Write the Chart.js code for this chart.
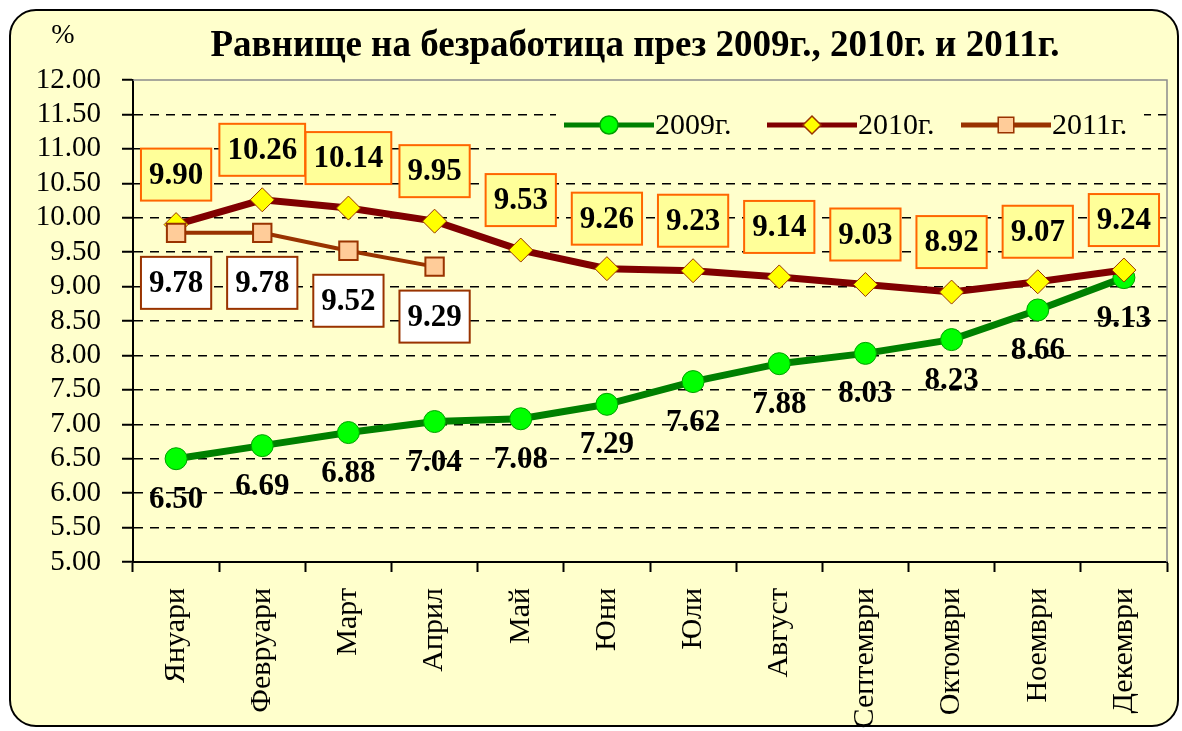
<!DOCTYPE html>
<html>
<head>
<meta charset="utf-8">
<script src="https://cdn.jsdelivr.net/npm/chart.js@4.4.0/dist/chart.umd.min.js"></script>
<style>
  html, body { margin: 0; padding: 0; background: #fff; }
  #wrap { width: 1182px; height: 731px; }
</style>
</head>
<body>
<div id="wrap"><canvas id="unemploymentChart" width="1182" height="731"></canvas></div>
<script>
// data
const months = ['Януари', 'Февруари', 'Март', 'Април', 'Май', 'Юни', 'Юли', 'Август', 'Септември', 'Октомври', 'Ноември', 'Декември'];
const rate2009 = [6.50, 6.69, 6.88, 7.04, 7.08, 7.29, 7.62, 7.88, 8.03, 8.23, 8.66, 9.13];
const rate2010 = [9.90, 10.26, 10.14, 9.95, 9.53, 9.26, 9.23, 9.14, 9.03, 8.92, 9.07, 9.24];
const rate2011 = [9.78, 9.78, 9.52, 9.29, null, null, null, null, null, null, null, null];
const seriesNames = ['2009г.', '2010г.', '2011г.'];
const yMin = 5, yMax = 12, yStep = 0.5;

const chartTitle = 'Равнище на безработица през 2009г., 2010г. и 2011г.';
const serif = "'Liberation Serif', 'Times New Roman', serif";

// rounded frame + yellow background
const framePlugin = {
  id: 'frame',
  beforeDraw(chart) {
    const ctx = chart.ctx;
    ctx.save();
    ctx.fillStyle = '#fff';
    ctx.fillRect(0, 0, chart.width, chart.height);
    ctx.beginPath();
    ctx.roundRect(10, 10, 1168, 716, 26);
    ctx.fillStyle = '#FFFFCC';
    ctx.fill();
    ctx.lineWidth = 2;
    ctx.strokeStyle = '#000';
    ctx.stroke();
    ctx.restore();
  },
  beforeDatasetsDraw(chart) {
    const ctx = chart.ctx;
    const a = chart.chartArea;
    ctx.save();
    // top and right edge of the plot area
    ctx.strokeStyle = '#8c8c8c';
    ctx.lineWidth = 1.5;
    ctx.beginPath();
    ctx.moveTo(a.left, a.top);
    ctx.lineTo(a.right, a.top);
    ctx.lineTo(a.right, a.bottom);
    ctx.stroke();

    // legend, inside the plot
    ctx.fillStyle = '#FFFFCC';
    ctx.fillRect(556, 104, 588, 40);
    const starts = [564, 767, 961];
    chart.data.datasets.forEach((ds, i) => {
      const x0 = starts[i], y = 125;
      ctx.strokeStyle = ds.borderColor;
      ctx.lineWidth = 5;
      ctx.beginPath();
      ctx.moveTo(x0, y);
      ctx.lineTo(x0 + 90, y);
      ctx.stroke();
      ctx.fillStyle = ds.pointBackgroundColor;
      ctx.strokeStyle = ds.pointBorderColor;
      ctx.lineWidth = 1.5;
      Chart.helpers.drawPoint(ctx, {
        pointStyle: ds.pointStyle,
        radius: ds.pointStyle === 'rect' ? 11 : 9,
        borderWidth: 1.5,
        rotation: 0
      }, x0 + 45, y);
      ctx.fillStyle = '#000';
      ctx.font = '30px ' + serif;
      ctx.textAlign = 'left';
      ctx.textBaseline = 'middle';
      ctx.fillText(ds.label, x0 + 91, y + 1);
    });
    ctx.restore();
  },
  afterDraw(chart) {
    const ctx = chart.ctx;
    ctx.save();
    ctx.fillStyle = '#000';
    ctx.textAlign = 'center';
    ctx.textBaseline = 'middle';
    ctx.font = 'bold 37px ' + serif;
    ctx.fillText(chartTitle, 635, 46);
    ctx.font = '28px ' + serif;
    ctx.fillText('%', 63, 36);
    ctx.restore();
  }
};

// value labels: boxes for 2010 and 2011, plain bold for 2009
const labelPlugin = {
  id: 'valueLabels',
  afterDatasetsDraw(chart) {
    const ctx = chart.ctx;
    const styles = [
      { dy: 40, fill: null, stroke: null },
      { dy: -50, fill: '#FFFF99', stroke: '#FF6600' },
      { dy: 50, fill: '#FFFFFF', stroke: '#993300' }
    ];
    ctx.save();
    ctx.font = 'bold 31px ' + serif;
    ctx.textAlign = 'center';
    ctx.textBaseline = 'middle';
    chart.data.datasets.forEach((ds, i) => {
      const meta = chart.getDatasetMeta(i);
      const st = styles[i];
      meta.data.forEach((pt, j) => {
        const v = ds.data[j];
        if (v === null || v === undefined) return;
        const txt = v.toFixed(2);
        const x = pt.x, y = pt.y + st.dy;
        if (st.fill) {
          const w = ctx.measureText(txt).width + 16;
          const h = 52;
          ctx.fillStyle = st.fill;
          ctx.fillRect(x - w / 2, y - h / 2, w, h);
          ctx.lineWidth = 2;
          ctx.strokeStyle = st.stroke;
          ctx.strokeRect(x - w / 2, y - h / 2, w, h);
        }
        ctx.fillStyle = '#000';
        ctx.fillText(txt, x, y + 1);
      });
    });
    ctx.restore();
  }
};

function unemploymentChart() {
  const ctx = document.getElementById('unemploymentChart');

  const data = {
    labels: months,
    datasets: [{
      label: seriesNames[0],
      data: rate2009,
      borderColor: '#008000',
      borderWidth: 7,
      pointStyle: 'circle',
      pointRadius: 11,
      pointHoverRadius: 11,
      pointBackgroundColor: '#00FF00',
      pointBorderColor: '#00A000',
      pointBorderWidth: 1,
      order: 3
    }, {
      label: seriesNames[1],
      data: rate2010,
      borderColor: '#800000',
      borderWidth: 7,
      pointStyle: 'rectRot',
      pointRadius: 12,
      pointHoverRadius: 12,
      pointBackgroundColor: '#FFFF00',
      pointBorderColor: '#993300',
      pointBorderWidth: 1,
      order: 2
    }, {
      label: seriesNames[2],
      data: rate2011,
      borderColor: '#993300',
      borderWidth: 4,
      pointStyle: 'rect',
      pointRadius: 13,
      pointHoverRadius: 13,
      pointBackgroundColor: '#FFCC99',
      pointBorderColor: '#993300',
      pointBorderWidth: 2,
      order: 1
    }]
  };

  const config = {
    type: 'line',
    data: data,
    options: {
      responsive: false,
      animation: false,
      devicePixelRatio: 1,
      layout: { padding: { top: 80, right: 14, left: 0, bottom: 0 } },
      elements: { line: { tension: 0 } },
      plugins: {
        legend: { display: false },
        title: { display: false },
        tooltip: { enabled: false }
      },
      scales: {
        x: {
          offset: true,
          afterFit: s => { s.height = 169; },
          grid: {
            offset: true,
            drawOnChartArea: false,
            drawTicks: true,
            tickLength: 10,
            tickColor: '#000',
            tickWidth: 2
          },
          border: { display: true, color: '#000', width: 2 },
          ticks: {
            autoSkip: false,
            minRotation: 90,
            maxRotation: 90,
            padding: 16,
            color: '#000',
            font: { family: serif, size: 30 }
          }
        },
        y: {
          min: yMin,
          max: yMax,
          afterFit: s => { s.width = 133; },
          grid: {
            color: c => (c.tick && c.tick.value === yMax) ? 'rgba(0,0,0,0)' : '#000',
            lineWidth: 1.5,
            tickLength: 11,
            tickColor: '#000',
            tickWidth: 2,
            tickBorderDash: []
          },
          border: { display: true, color: '#000', width: 2, dash: [9, 7] },
          ticks: {
            stepSize: yStep,
            autoSkip: false,
            maxTicksLimit: 20,
            padding: 21,
            color: '#000',
            font: { family: serif, size: 29, lineHeight: 0.9 },
            callback: v => Number(v).toFixed(2)
          }
        }
      }
    },
    plugins: [framePlugin, labelPlugin]
  };

  new Chart(ctx, config);
}

unemploymentChart();
</script>
</body>
</html>
